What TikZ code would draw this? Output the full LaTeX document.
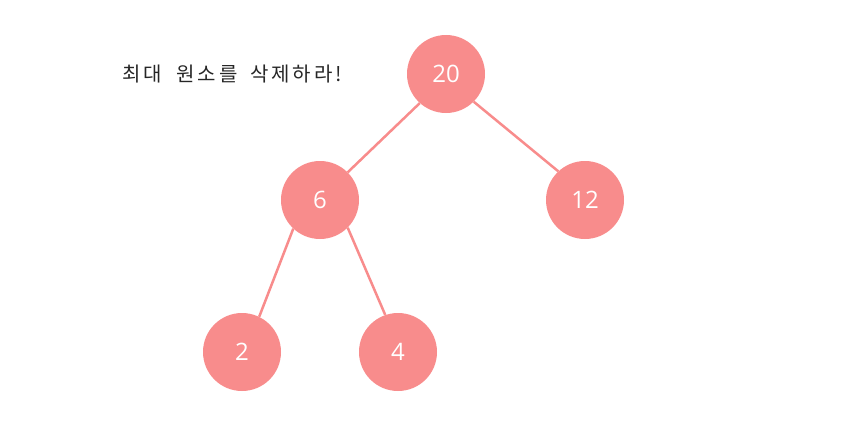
\documentclass[tikz,border=0pt]{standalone}
\usepackage{fontspec}
\setmainfont{Open Sans}
\newfontfamily\krfont[LetterSpace=15]{Noto Sans CJK KR}
\definecolor{salmon}{HTML}{F88C8C}
\begin{document}
\begin{tikzpicture}[x=1pt,y=-1pt,
  heapnode/.style={circle,fill=salmon,minimum size=78pt,inner sep=0pt,text=white,font=\fontsize{24}{26}\selectfont},
  heapedge/.style={draw=salmon,line width=2.5pt}]
\useasboundingbox (0,0) rectangle (850,444);
\node[heapnode] (n20) at (446,74) {20};
\node[heapnode] (n6) at (320,200) {6};
\node[heapnode] (n12) at (585,200) {12};
\node[heapnode] (n2) at (242,352) {2};
\node[heapnode] (n4) at (398,352) {4};
\draw[heapedge] (n20.-132) -- (n6.45);
\draw[heapedge] (n20.-45) -- (n12.133);
\draw[heapedge] (n6.-133) -- (n2.64);
\draw[heapedge] (n6.-45) -- (n4.109);
\node[anchor=west,inner sep=0pt,font=\krfont\fontsize{20}{22}\selectfont,text=black!85] (title) at (122,74) {최대\hspace{7pt} 원소를\hspace{5pt} 삭제하라!};
\end{tikzpicture}
\end{document}
